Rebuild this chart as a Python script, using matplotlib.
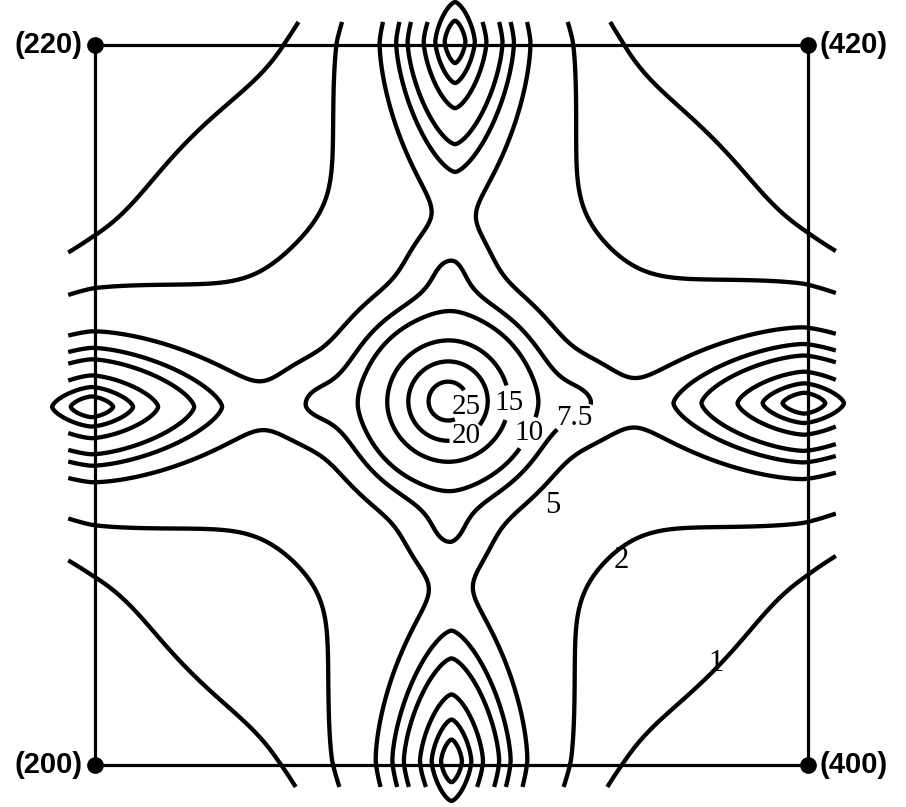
import numpy as np
import matplotlib
matplotlib.use("Agg")
import matplotlib.pyplot as plt

# ---------------- data ----------------
# contour levels of the intensity map
contour_levels = [1, 2, 5, 7.5, 10, 15, 20, 25]
closed_levels = [20, 25]          # these loops are drawn in full beyond the frame
level_text = {1: "1", 2: "2", 5: "5", 7.5: "7.5", 10: "10", 15: "15", 20: "20", 25: "25"}

# intensity maxima (h, k in reciprocal lattice units): (310), (210), (410), (320), (300)
peak_h = [2.99, 1.99, 3.99, 3.01, 3.00]
peak_k = [1.011, 0.995, 1.005, 2.01, 0.01]
peak_height = [25.7, 30.0, 30.0, 30.0, 30.0]
peak_width_h = [0.212, 0.230, 0.230, 0.112, 0.112]
peak_width_k = [0.210, 0.111, 0.111, 0.228, 0.228]
peak_decay = [1.5, 1.1, 1.1, 1.1, 1.1]
peak_norm = [2.0, 1.5, 1.5, 1.5, 1.5]
peak_cutoff = [100.0, 6.0, 6.0, 6.0, 6.0]   # tail cut-off, in units of the width

# shoulders of the central maximum towards its four neighbours
bridge_h = [2.603, 3.377, 2.99, 2.99]
bridge_k = [1.011, 1.011, 1.394, 0.628]
bridge_height = [2.1, 2.1, 2.1, 2.1]
bridge_width_h = [0.101, 0.101, 0.112, 0.112]
bridge_width_k = [0.112, 0.112, 0.100, 0.100]

# broad diffuse background
background_height = 1.90
background_center = (3.0, 1.0)
background_width = 1.163

# corners of the map
corner_h = [2, 4, 2, 4]
corner_k = [0, 0, 2, 2]
corner_labels = ["(200)", "(400)", "(220)", "(420)"]
corner_side = ["left", "right", "left", "right"]

# contour label positions (h, k)
inline_label_levels = [25, 20, 15, 10, 7.5]
inline_label_pos = [(3.035, 0.997), (3.046, 0.905), (3.164, 1.006), (3.215, 0.922), (3.346, 0.964)]
side_label_levels = [5, 2, 1]
side_label_pos = [(3.285, 0.722), (3.475, 0.568), (3.742, 0.283)]

# frame of the drawing region (r.l.u.)
h_min, h_max = 2.0, 4.0
k_min, k_max = 0.0, 2.0
clip_h = (1.925, 4.078)
clip_k = (-0.061, 2.064)


def intensity(H, K):
    d2 = (H - background_center[0]) ** 2 + (K - background_center[1]) ** 2
    Z = background_height * np.exp(-(d2 / background_width ** 2) ** 2)
    for h0, k0, a, wh, wk, p, m, qc in zip(peak_h, peak_k, peak_height, peak_width_h,
                                           peak_width_k, peak_decay, peak_norm, peak_cutoff):
        q = (np.abs((H - h0) / wh) ** m + np.abs((K - k0) / wk) ** m) ** (1.0 / m)
        Z = Z + a * np.exp(-q ** p - (q / qc) ** 4)
    for h0, k0, a, wh, wk in zip(bridge_h, bridge_k, bridge_height, bridge_width_h, bridge_width_k):
        Z = Z + a * np.exp(-((H - h0) / wh) ** 2 - ((K - k0) / wk) ** 2)
    return Z


plt.rcParams["font.family"] = ["Liberation Serif", "DejaVu Serif"]

fig = plt.figure(figsize=(9.06, 8.07), dpi=100)
ax = fig.add_axes([0, 0, 1, 1])
ax.set_xlim(1.7335, 4.2749)
ax.set_ylim(-0.1167, 2.125)
ax.axis("off")

lw = 3.1
# open contours, clipped slightly outside the frame
hi = np.linspace(clip_h[0], clip_h[1], 700)
ki = np.linspace(clip_k[0], clip_k[1], 700)
Hi, Ki = np.meshgrid(hi, ki)
Zi = intensity(Hi, Ki)
# closed contours, on a wider grid
ho = np.linspace(1.6, 4.4, 800)
ko = np.linspace(-0.3, 2.3, 800)
Ho, Ko = np.meshgrid(ho, ko)
Zo = intensity(Ho, Ko)

sets = {}
for lev in contour_levels:
    if lev in closed_levels:
        cs = ax.contour(Ho, Ko, Zo, levels=[lev], colors="black", linewidths=lw)
    else:
        cs = ax.contour(Hi, Ki, Zi, levels=[lev], colors="black", linewidths=lw)
    sets[lev] = cs

for lev, pos in zip(inline_label_levels, inline_label_pos):
    txts = sets[lev].clabel(levels=[lev], manual=[pos], inline=True, inline_spacing=3,
                            fmt={lev: level_text[lev]}, fontsize=21, colors="black")
    for t in txts:
        t.set_rotation(0)

for lev, pos in zip(side_label_levels, side_label_pos):
    ax.text(pos[0], pos[1], level_text[lev], fontsize=22, ha="center", va="center",
            color="black")

# frame
ax.plot([h_min, h_max, h_max, h_min, h_min], [k_min, k_min, k_max, k_max, k_min],
        color="black", lw=2.3, solid_joinstyle="miter")
ax.plot(corner_h, corner_k, "o", color="black", ms=11)
for h, k, lab, side in zip(corner_h, corner_k, corner_labels, corner_side):
    dx = -9 if side == "left" else 8
    ax.annotate(lab, (h, k), xytext=(dx, 0), textcoords="offset points",
                ha="right" if side == "left" else "left", va="center",
                fontsize=21, fontweight="bold", family=["Liberation Sans", "DejaVu Sans"])

fig.savefig("out.png", dpi=100)
